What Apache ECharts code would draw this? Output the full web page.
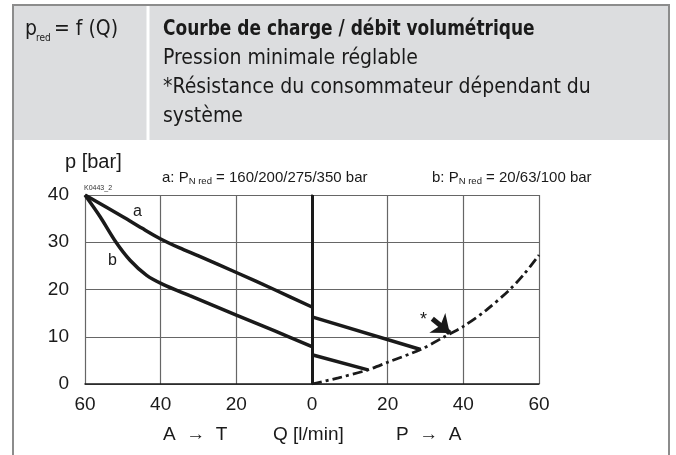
<!DOCTYPE html>
<html>
<head>
<meta charset="utf-8">
<script src="https://cdn.jsdelivr.net/npm/echarts@6/dist/echarts.min.js"></script>
<style>
    html, body { margin: 0; padding: 0; background: #fff; }
    #chart { width: 676px; height: 455px; }
</style>
</head>
<body>
<div id="chart"></div>
<script>
const xTicks = [-60, -40, -20, 0, 20, 40, 60];
const yTicks = [0, 10, 20, 30, 40];
const curveA_AT = [[-60, 40], [-50, 35.4], [-45, 33], [-40, 30.7], [-35, 28.8], [-30, 27.1], [-20, 23.6], [-10, 20], [0, 16.3]];
const curveA_PA = [[0, 14.2], [28.7, 7.3]];
const curveB_AT = [[-60, 40], [-56, 35.4], [-51.8, 30], [-48.1, 26.2], [-43.7, 23], [-39.4, 21.1], [-32.3, 18.7], [-20, 14.6], [-10, 11.3], [0, 7.9]];
const curveB_PA = [[0, 6.2], [14.8, 3.0]];
const resistance = [[0, 0], [7, 1.3], [14.8, 3.0], [20, 4.6], [28.7, 7.3], [35, 10], [40, 12.2], [46, 15.6], [52.3, 20], [56, 23.2], [60, 27.3]];
const arrowFrom = [31.8, 13.8];
const arrowTo = [36.4, 10.8];

const font = 'Liberation Sans, Arial, sans-serif';
const headFont = '"Liberation Sans Narrow", "DejaVu Sans Condensed", sans-serif';
const ink = '#1a1a1a';

var myChart = echarts.init(document.getElementById('chart'));

const lineStyle = { color: ink, width: 3.5 };

const option = {
    animation: false,
    backgroundColor: '#fff',
    grid: { left: 85, right: 137, top: 195, bottom: 71 },
    xAxis: {
        type: 'value',
        min: xTicks[0],
        max: xTicks[xTicks.length - 1],
        interval: 20,
        axisLine: { show: true, onZero: false, lineStyle: { color: ink, width: 1.5 } },
        axisTick: { show: false },
        splitLine: { show: true, lineStyle: { color: '#666', width: 1.2 } },
        axisLabel: {
            color: ink, fontFamily: font, fontSize: 19, margin: 11,
            formatter: v => String(Math.abs(v))
        }
    },
    yAxis: {
        type: 'value',
        min: yTicks[0],
        max: yTicks[yTicks.length - 1],
        interval: 10,
        axisLine: { show: true, lineStyle: { color: ink, width: 1.5 } },
        axisTick: { show: false },
        splitLine: { show: true, lineStyle: { color: '#666', width: 1.2 } },
        axisLabel: { color: ink, fontFamily: font, fontSize: 19, margin: 16 }
    },
    series: [
        {
            name: 'a A-T', type: 'line', data: curveA_AT, smooth: 0.3,
            symbol: 'none', lineStyle: lineStyle,
            markLine: {
                silent: true, symbol: 'none', label: { show: false },
                lineStyle: { color: ink, width: 3, type: 'solid' },
                data: [{ xAxis: 0 }]
            }
        },
        { name: 'a P-A', type: 'line', data: curveA_PA, symbol: 'none', lineStyle: lineStyle },
        { name: 'b A-T', type: 'line', data: curveB_AT, smooth: 0.3, symbol: 'none', lineStyle: lineStyle },
        { name: 'b P-A', type: 'line', data: curveB_PA, symbol: 'none', lineStyle: lineStyle },
        {
            name: 'résistance', type: 'line', data: resistance, smooth: 0.3, symbol: 'none',
            lineStyle: { color: ink, width: 2.8, type: [10, 4, 3, 4] },
            markLine: {
                silent: true,
                symbol: ['none', 'arrow'],
                symbolSize: [19, 16],
                label: { show: false },
                lineStyle: { color: ink, width: 5, type: 'solid' },
                data: [[{ coord: arrowFrom }, { coord: arrowTo }]]
            }
        }
    ],
    graphic: [
        // en-tête
        { type: 'rect', shape: { x: 13, y: 5, width: 656, height: 135 }, style: { fill: '#dcdddf' }, z: -1 },
        { type: 'line', shape: { x1: 148, y1: 5, x2: 148, y2: 140 }, style: { stroke: '#fff', lineWidth: 3 } },
        { type: 'line', shape: { x1: 12, y1: 5, x2: 670, y2: 5 }, style: { stroke: '#8c8c8c', lineWidth: 2 } },
        { type: 'line', shape: { x1: 13, y1: 5, x2: 13, y2: 455 }, style: { stroke: '#8c8c8c', lineWidth: 2 } },
        { type: 'line', shape: { x1: 669, y1: 5, x2: 669, y2: 455 }, style: { stroke: '#8c8c8c', lineWidth: 2 } },
        { type: 'text', x: 25, y: 30, style: { text: 'p', font: '21px ' + headFont, fill: ink, textVerticalAlign: 'middle' } },
        { type: 'text', x: 36, y: 38, style: { text: 'red', font: '10px ' + headFont, fill: ink, textVerticalAlign: 'middle' } },
        { type: 'text', x: 54, y: 30, style: { text: '= f (Q)', font: '21px ' + headFont, fill: ink, textVerticalAlign: 'middle' } },
        { type: 'text', x: 163, y: 30, scaleX: 0.9, style: { text: 'Courbe de charge / débit volumétrique', font: 'bold 21px ' + headFont, fill: ink, textVerticalAlign: 'middle' } },
        { type: 'text', x: 163, y: 59, style: { text: 'Pression minimale réglable', font: '21px ' + headFont, fill: ink, textVerticalAlign: 'middle' } },
        { type: 'text', x: 163, y: 88, style: { text: '*Résistance du consommateur dépendant du', font: '21px ' + headFont, fill: ink, textVerticalAlign: 'middle' } },
        { type: 'text', x: 163, y: 117, style: { text: 'système', font: '21px ' + headFont, fill: ink, textVerticalAlign: 'middle' } },
        // textes du diagramme
        { type: 'text', x: 65, y: 162, style: { text: 'p [bar]', font: '20px ' + font, fill: ink, textVerticalAlign: 'middle' } },
        { type: 'text', x: 84, y: 188, style: { text: 'K0443_2', font: '7px ' + font, fill: '#333', textVerticalAlign: 'middle' } },
        {
            type: 'text', x: 162, y: 178,
            style: {
                text: '{n|a: P}{s|N red}{n| = 160/200/275/350 bar}',
                textVerticalAlign: 'middle',
                rich: {
                    n: { font: '15px ' + font, fill: ink },
                    s: { font: '9.5px ' + font, fill: ink, padding: [6, 0, 0, 0] }
                }
            }
        },
        {
            type: 'text', x: 432, y: 178,
            style: {
                text: '{n|b: P}{s|N red}{n| = 20/63/100 bar}',
                textVerticalAlign: 'middle',
                rich: {
                    n: { font: '15px ' + font, fill: ink },
                    s: { font: '9.5px ' + font, fill: ink, padding: [6, 0, 0, 0] }
                }
            }
        },
        { type: 'text', x: 133, y: 212, style: { text: 'a', font: '16px ' + font, fill: ink, textVerticalAlign: 'middle' } },
        { type: 'text', x: 108, y: 261, style: { text: 'b', font: '16px ' + font, fill: ink, textVerticalAlign: 'middle' } },
        { type: 'text', x: 420, y: 320, style: { text: '*', font: '18px ' + font, fill: ink, textVerticalAlign: 'middle' } },
        { type: 'text', x: 163, y: 435, style: { text: 'A  →  T', font: '19px ' + font, fill: ink, textVerticalAlign: 'middle' } },
        { type: 'text', x: 273, y: 435, style: { text: 'Q [l/min]', font: '19px ' + font, fill: ink, textVerticalAlign: 'middle' } },
        { type: 'text', x: 396, y: 435, style: { text: 'P  →  A', font: '19px ' + font, fill: ink, textVerticalAlign: 'middle' } }
    ]
};

myChart.setOption(option);
</script>
</body>
</html>
